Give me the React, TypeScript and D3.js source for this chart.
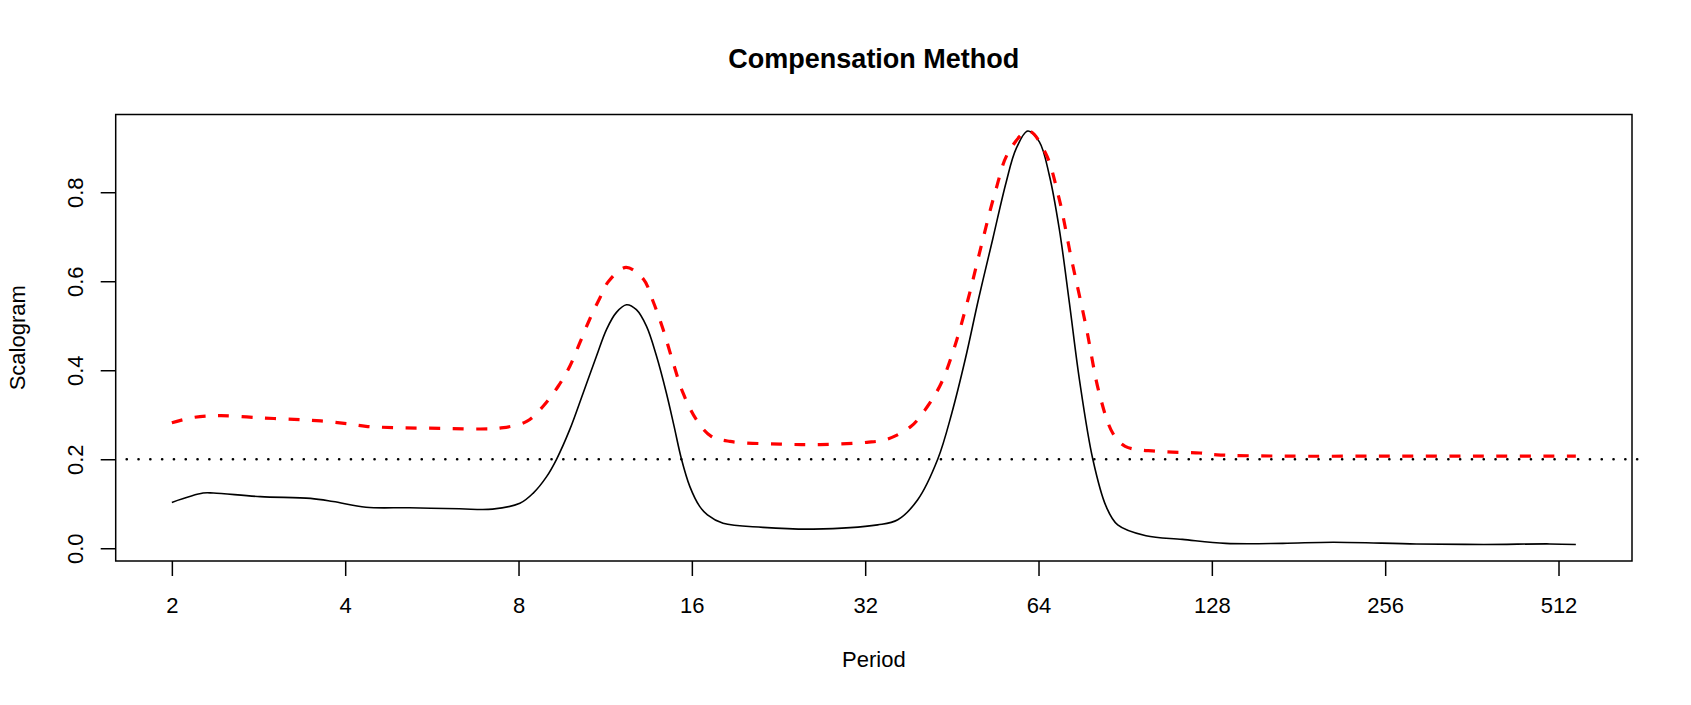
import React, { useEffect, useRef } from "react";
import { select, scaleLinear, line, curveCatmullRom, extent, axisBottom, axisLeft } from "d3";

// black solid curve: log2(period) -> scalogram
const blackPeriodLog2 = [
  1.0, 1.18, 1.24, 1.51, 1.8, 1.93, 2.12, 2.37, 2.66, 2.85, 3.008, 3.085, 3.162, 3.22, 3.296, 3.373,
  3.45, 3.508, 3.565, 3.623, 3.68, 3.738, 3.796, 3.853, 3.897, 3.94, 3.988, 4.045, 4.09, 4.18, 4.41, 4.7,
  5.072, 5.188, 5.303, 5.419, 5.5, 5.577, 5.654, 5.736, 5.813, 5.871, 5.938, 6.005, 6.063, 6.12, 6.178, 6.236,
  6.313, 6.39, 6.457, 6.62, 6.83, 7.08, 7.41, 7.7, 8.18, 8.57, 8.95, 9.1
];
const blackScalogram = [
  0.103, 0.124, 0.124, 0.116, 0.112, 0.105, 0.092, 0.091, 0.0886, 0.088, 0.101, 0.124, 0.161, 0.2005, 0.267, 0.349,
  0.432, 0.492, 0.53, 0.547, 0.536, 0.499, 0.432, 0.349, 0.275, 0.2005, 0.139, 0.094, 0.075, 0.056, 0.047, 0.043,
  0.0525, 0.064, 0.109, 0.2005, 0.304, 0.424, 0.56, 0.695, 0.822, 0.898, 0.9375, 0.913, 0.837, 0.717, 0.552, 0.379,
  0.2005, 0.094, 0.0525, 0.028, 0.02, 0.011, 0.011, 0.0135, 0.0097, 0.0085, 0.0097, 0.0085
];

// red dashed curve (compensated)
const redPeriodLog2 = [
  1.0, 1.125, 1.28, 1.51, 1.74, 1.86, 2.01, 2.12, 2.28, 2.56, 2.78, 2.893, 3.047, 3.142, 3.229, 3.296,
  3.354, 3.41, 3.47, 3.52, 3.62, 3.72, 3.776, 3.834, 3.892, 3.949, 4.026, 4.11, 4.22, 4.51, 4.74, 5.01,
  5.13, 5.265, 5.36, 5.44, 5.517, 5.594, 5.67, 5.75, 5.827, 5.942, 6.038, 6.115, 6.19, 6.274, 6.35, 6.428,
  6.5, 6.68, 6.93, 7.03, 7.41, 7.99, 8.57, 9.1
];
const redScalogram = [
  0.282, 0.294, 0.298, 0.293, 0.289, 0.286, 0.28, 0.274, 0.271, 0.2695, 0.268, 0.27, 0.285, 0.319, 0.364, 0.409,
  0.462, 0.514, 0.563, 0.6, 0.631, 0.605, 0.555, 0.492, 0.417, 0.349, 0.289, 0.252, 0.24, 0.234, 0.233, 0.238,
  0.2455, 0.274, 0.319, 0.372, 0.454, 0.56, 0.68, 0.8, 0.89, 0.9375, 0.89, 0.792, 0.65, 0.499, 0.349, 0.259,
  0.229, 0.218, 0.214, 0.21, 0.207, 0.207, 0.207, 0.207
];

const periodTicks = [2, 4, 8, 16, 32, 64, 128, 256, 512];
const scalogramTicks = [0, 0.2, 0.4, 0.6, 0.8];
const threshold = 0.2;

const W = 1691;
const H = 705;
const FONT = "'Liberation Sans', Arial, Helvetica, sans-serif";

// R style 4% padding of the data range
const pad = ([a, b]) => [a - 0.04 * (b - a), b + 0.04 * (b - a)];

export default function App() {
  const svgRef = useRef(null);

  useEffect(() => {
    const svg = select(svgRef.current);
    svg.selectAll("*").remove();

    const left = 115.7, right = 1632, top = 114.5, bottom = 561;

    const x = scaleLinear()
      .domain(pad(extent(blackPeriodLog2)))
      .range([left, right]);
    const y = scaleLinear()
      .domain(pad(extent(blackScalogram)))
      .range([bottom, top]);

    const g = svg.append("g");

    // threshold
    g.append("line")
      .attr("x1", left)
      .attr("x2", right)
      .attr("y1", y(threshold))
      .attr("y2", y(threshold))
      .attr("stroke", "#000")
      .attr("stroke-width", 2.6)
      .attr("stroke-linecap", "round")
      .attr("stroke-dasharray", "0.1 11.7")
      .attr("transform", "translate(11,0)");

    const path = line().curve(curveCatmullRom.alpha(0.5));

    g.append("path")
      .attr("d", path(blackPeriodLog2.map((p, i) => [x(p), y(blackScalogram[i])])))
      .attr("fill", "none")
      .attr("stroke", "#000")
      .attr("stroke-width", 1.6);

    g.append("path")
      .attr("d", path(redPeriodLog2.map((p, i) => [x(p), y(redScalogram[i])])))
      .attr("fill", "none")
      .attr("stroke", "#ff0000")
      .attr("stroke-width", 3.2)
      .attr("stroke-dasharray", "11 12.5");

    // box
    g.append("rect")
      .attr("x", left)
      .attr("y", top)
      .attr("width", right - left)
      .attr("height", bottom - top)
      .attr("fill", "none")
      .attr("stroke", "#000")
      .attr("stroke-width", 1.5);

    const xAxis = axisBottom(x)
      .tickValues(periodTicks.map((p) => Math.log2(p)))
      .tickFormat((d) => String(Math.round(Math.pow(2, d))))
      .tickSize(15)
      .tickSizeOuter(0)
      .tickPadding(21);
    const xg = svg.append("g")
      .attr("transform", `translate(0, ${bottom})`)
      .call(xAxis);
    xg.select(".domain").remove();
    xg.selectAll("line").attr("stroke-width", 1.5);
    xg.selectAll("text").attr("font-size", 22).attr("font-family", FONT).attr("fill", "#000");

    const yAxis = axisLeft(y).tickValues(scalogramTicks).tickFormat((d) => d.toFixed(1)).tickSize(15).tickSizeOuter(0);
    const yg = svg.append("g")
      .attr("transform", `translate(${left}, 0)`)
      .call(yAxis);
    yg.select(".domain").remove();
    yg.selectAll("line").attr("stroke-width", 1.5);
    yg.selectAll("text")
      .attr("x", null)
      .attr("dy", null)
      .attr("text-anchor", "middle")
      .attr("transform", "translate(-32.5,0) rotate(-90)")
      .attr("font-size", 22)
      .attr("font-family", FONT)
      .attr("fill", "#000");

    // labels
    svg.append("text")
      .attr("x", (left + right) / 2)
      .attr("y", 68)
      .attr("text-anchor", "middle")
      .attr("font-family", FONT)
      .attr("font-weight", "bold")
      .attr("font-size", 27)
      .text("Compensation Method");

    svg.append("text")
      .attr("x", (left + right) / 2)
      .attr("y", 667)
      .attr("text-anchor", "middle")
      .attr("font-family", FONT)
      .attr("font-size", 22)
      .text("Period");

    svg.append("text")
      .attr("transform", `translate(25, ${(top + bottom) / 2}) rotate(-90)`)
      .attr("text-anchor", "middle")
      .attr("font-family", FONT)
      .attr("font-size", 22)
      .text("Scalogram");
  }, []);

  return (
    <svg
      ref={svgRef}
      width={W}
      height={H}
      style={{ position: "absolute", left: 0, top: 0, background: "#fff" }}
    />
  );
}
